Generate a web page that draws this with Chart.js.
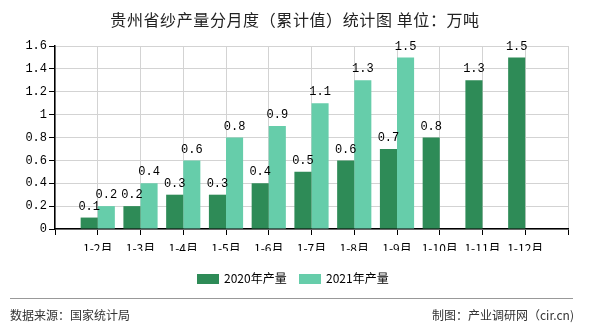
<!DOCTYPE html>
<html><head><meta charset="utf-8">
<script src="https://cdn.jsdelivr.net/npm/chart.js@4"></script>
<style>
html,body{margin:0;padding:0;background:#fff;}
#wrap{position:relative;width:590px;height:330px;font-family:"Noto Sans CJK SC",sans-serif;}
#title{position:absolute;left:0;top:8px;width:590px;text-align:center;font-size:16px;letter-spacing:0.6px;color:#222;line-height:22px;}
#legend{position:absolute;left:0;top:269px;width:590px;height:18px;}
.lg{position:absolute;top:0;font-size:12px;line-height:18px;color:#000;}
.lg i{display:inline-block;width:22px;height:10px;vertical-align:-1px;margin-right:5px;}
#line{position:absolute;left:10px;top:298px;width:563px;height:1px;background:#999;}
#src{position:absolute;left:10px;top:306px;font-size:12px;color:#333;line-height:18px;}
#by{position:absolute;right:16px;top:306px;font-size:12px;color:#333;line-height:18px;}
canvas{position:absolute;left:0;top:0;}
</style></head>
<body><div id="wrap">
<canvas id="c" width="590" height="330"></canvas>
<div id="title">贵州省纱产量分月度（累计值）统计图 单位：万吨</div>
<div id="legend"></div>
<div id="line"></div>
<div id="src">数据来源：国家统计局</div>
<div id="by">制图：产业调研网（cir.cn)</div>
</div>
<script>
const categories = ['1-2月','1-3月','1-4月','1-5月','1-6月','1-7月','1-8月','1-9月','1-10月','1-11月','1-12月'];
const series2020 = [0.1,0.2,0.3,0.3,0.4,0.5,0.6,0.7,0.8,1.3,1.5];
const series2021 = [0.2,0.4,0.6,0.8,0.9,1.1,1.3,1.5,null,null,null];
const seriesNames = ['2020年产量','2021年产量'];
const seriesColors = ['#2E8B57','#66CDAA'];
const yTicks = [0,0.2,0.4,0.6,0.8,1,1.2,1.4,1.6];

const labels = [''].concat(categories).concat(['']);
const pad = a => [null].concat(a).concat([null]);

const valueLabels = {
  id:'valueLabels',
  afterDatasetsDraw(chart){
    const ctx = chart.ctx;
    ctx.save();
    ctx.font = '12px "Liberation Mono", monospace';
    ctx.fillStyle = '#000';
    ctx.textAlign = 'center';
    ctx.textBaseline = 'bottom';
    chart.data.datasets.forEach((ds,i)=>{
      const meta = chart.getDatasetMeta(i);
      meta.data.forEach((bar,j)=>{
        const v = ds.data[j];
        if(v===null||v===undefined) return;
        ctx.fillText(String(v), bar.x, bar.y-5);
      });
    });
    ctx.restore();
  }
};

const chart = new Chart(document.getElementById('c'),{
  type:'bar',
  data:{labels:labels,datasets:[
    {label:seriesNames[0],data:pad(series2020),backgroundColor:seriesColors[0],categoryPercentage:0.8,barPercentage:1.0},
    {label:seriesNames[1],data:pad(series2021),backgroundColor:seriesColors[1],categoryPercentage:0.8,barPercentage:1.0}
  ]},
  options:{
    responsive:false,animation:false,
    layout:{padding:{top:46,right:22,bottom:79,left:0}},
    plugins:{legend:{display:false},title:{display:false},tooltip:{enabled:false}},
    scales:{
      x:{offset:false,
        grid:{offset:false,color:'#d3d3d3',tickColor:'#000',tickLength:6,drawTicks:true},
        border:{color:'#000',width:1.5},
        ticks:{autoSkip:false,maxRotation:0,padding:6,color:'#000',font:{family:'"Noto Sans CJK SC"',size:12}},
        afterFit(s){s.height=22;}
      },
      y:{min:0,max:1.6,
        grid:{color:'#d3d3d3',tickColor:'#000',tickLength:6},
        border:{color:'#000',width:1.5},
        afterBuildTicks(s){s.ticks=yTicks.map(v=>({value:v}));},
        ticks:{padding:2,color:'#000',font:{family:'"Liberation Mono", monospace',size:12},callback:v=>String(v)},
        afterFit(s){s.width=55;}
      }
    }
  },
  plugins:[valueLabels]
});

const lg = document.getElementById('legend');
const pos = [197,299];
chart.data.datasets.forEach((ds,i)=>{
  const d = document.createElement('div');
  d.className='lg'; d.style.left=pos[i]+'px';
  d.innerHTML='<i style="background:'+ds.backgroundColor+'"></i>'+ds.label;
  lg.appendChild(d);
});
</script>
</body></html>
